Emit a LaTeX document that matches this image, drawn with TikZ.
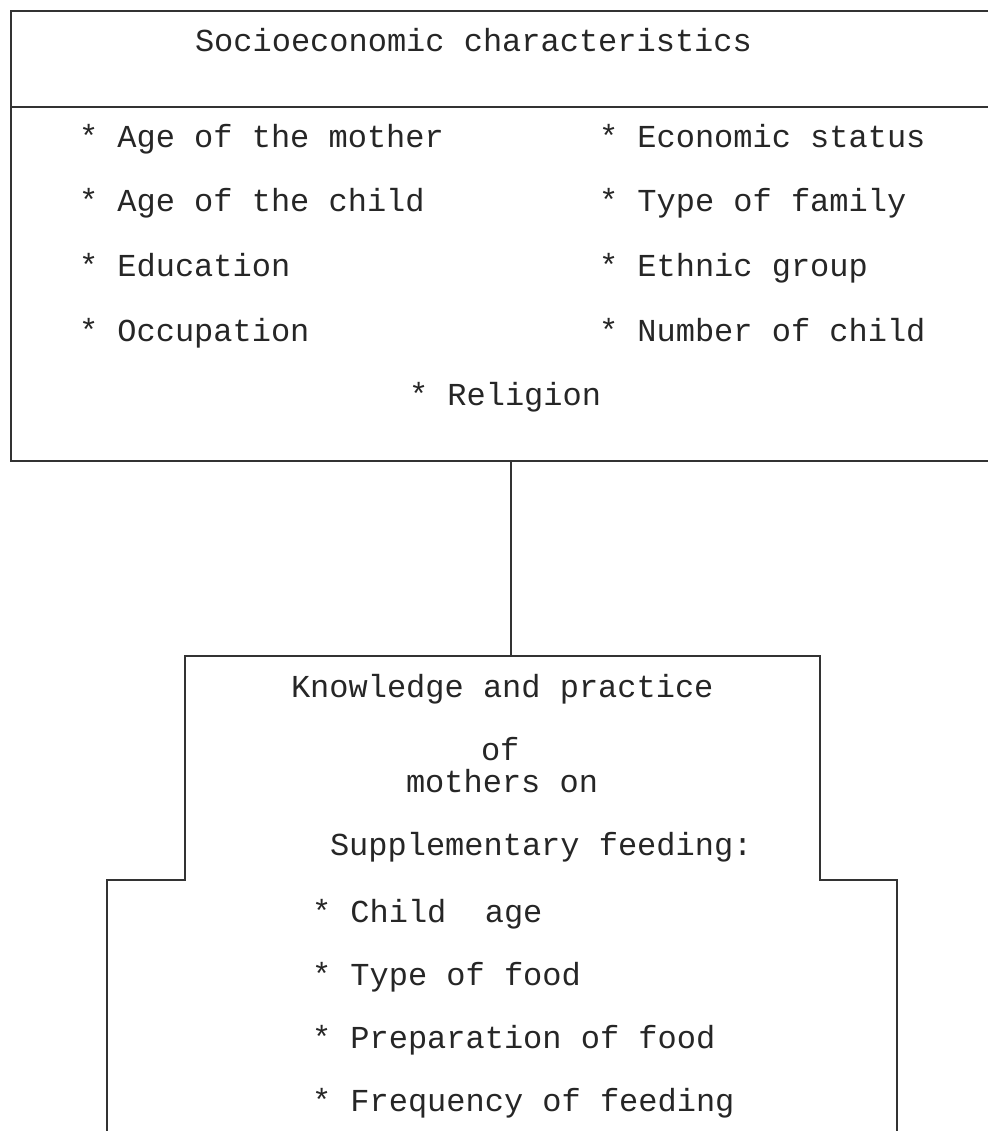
\documentclass[tikz,border=0pt]{standalone}
\usepackage{fontspec}
\setmainfont{Liberation Mono}
\begin{document}
\begin{tikzpicture}[x=1pt,y=-1pt,
  frame/.style={draw=black!80,line width=1.8pt},
  lbl/.style={anchor=base west,inner sep=0pt,outer sep=0pt,text=black!85,font=\fontsize{32}{38}\selectfont},
  link/.style={draw=black!80,line width=1.6pt}]
\useasboundingbox (0,0) rectangle (988,1131);
% upper box (open on the right)
\draw[frame] (988,11) -- (11,11) -- (11,461) -- (988,461);
\draw[frame] (11,107) -- (988,107);
\coordinate (upbottom) at (511,461);
% title and items
\node[lbl] (title) at (195,52) {Socioeconomic characteristics};
\node[lbl] (a1) at (79,148) {* Age of the mother};
\node[lbl] (a2) at (79,212) {* Age of the child};
\node[lbl] (a3) at (79,277) {* Education};
\node[lbl] (a4) at (79,341) {* Occupation};
\node[lbl] (b1) at (599,148) {* Economic status};
\node[lbl] (b2) at (599,212) {* Type of family};
\node[lbl] (b3) at (599,277) {* Ethnic group};
\node[lbl] (b4) at (599,341) {* Number of child};
\node[lbl] (rel) at (409,405) {* Religion};
% lower stepped box (open at the bottom)
\draw[frame] (107,1131) -- (107,880) -- (185,880) -- (185,656) -- (820,656) -- (820,880) -- (897,880) -- (897,1131);
\coordinate (lowtop) at (511,656);
\draw[link] (upbottom) -- (lowtop);
\node[lbl] (k1) at (291,697) {Knowledge and practice};
\node[lbl] (k2) at (481,760) {of};
\node[lbl] (k3) at (406,792) {mothers on};
\node[lbl] (k4) at (330,855) {Supplementary feeding:};
\node[lbl] (c1) at (312,922) {* Child\ \ age};
\node[lbl] (c2) at (312,985) {* Type of food};
\node[lbl] (c3) at (312,1048) {* Preparation of food};
\node[lbl] (c4) at (312,1111) {* Frequency of feeding};
\end{tikzpicture}
\end{document}
